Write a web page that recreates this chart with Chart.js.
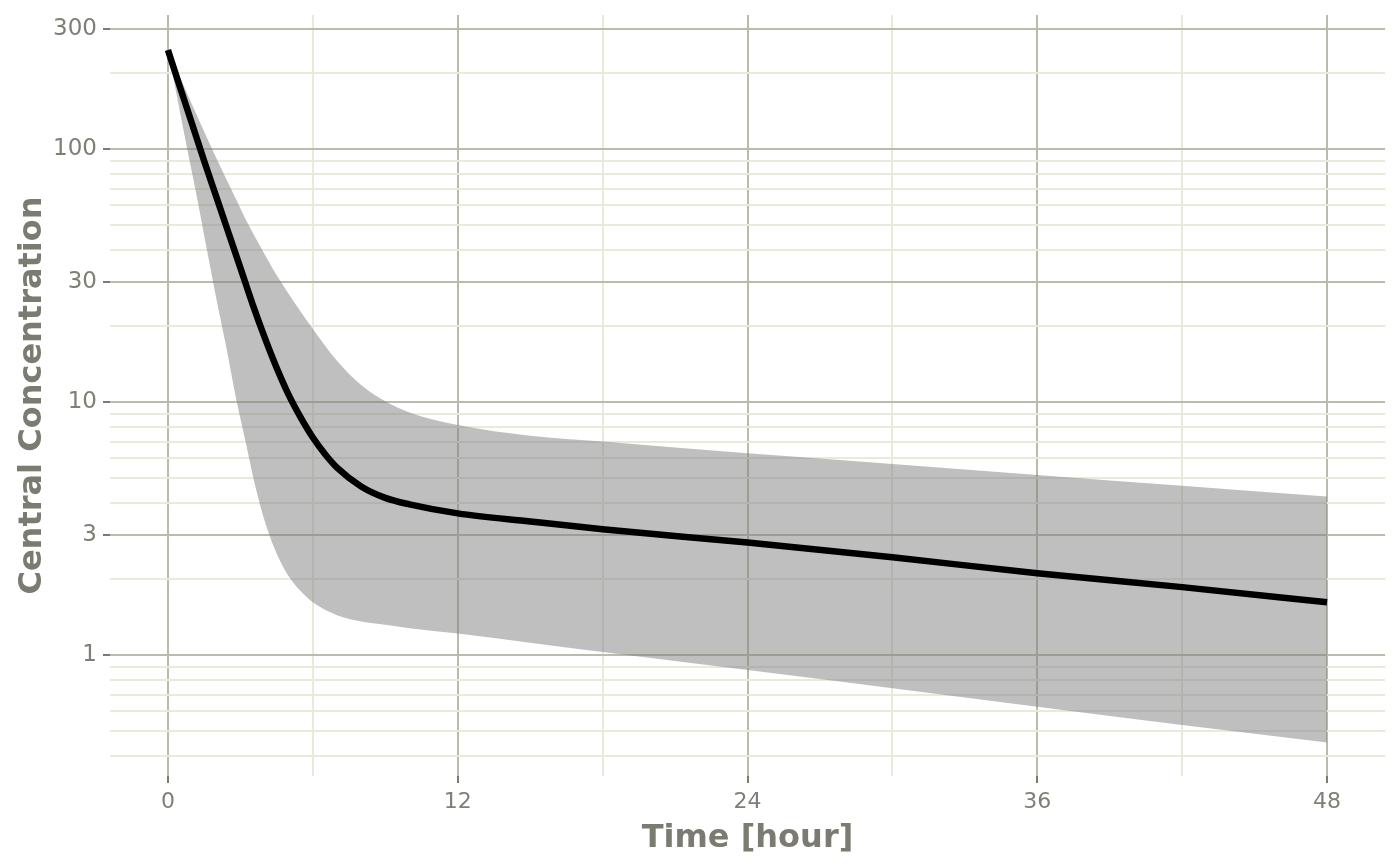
<!DOCTYPE html>
<html>
<head>
<meta charset="utf-8">
<script src="https://cdn.jsdelivr.net/npm/chart.js@4.4.1/dist/chart.umd.min.js"></script>
<style>
  html, body { margin: 0; padding: 0; background: #ffffff; }
  #wrap { width: 1400px; height: 865px; }
</style>
</head>
<body>
<div id="wrap"><canvas id="pkChart" width="1400" height="865"></canvas></div>
<script>
// median concentration curve
const lineTime = [0, 0.5, 1, 1.5, 2, 2.5, 3, 3.5, 4, 4.5, 5, 5.5, 6, 6.5, 7, 8, 9, 10, 12, 15, 18, 24, 30, 36, 42, 48];
const lineConc = [247, 176, 126, 90, 65, 47, 34, 24.5, 18.1, 13.7, 10.7, 8.7, 7.26, 6.25, 5.52, 4.65, 4.19, 3.95, 3.64, 3.38, 3.15, 2.79, 2.44, 2.11, 1.86, 1.62];

// ribbon (interval) around the curve
const bandTime  = [0, 0.4, 0.8, 1.2, 1.6, 2, 2.4, 2.8, 3.2, 3.6, 4, 4.4, 4.8, 5.2, 5.6, 6, 7, 8, 9, 10, 12, 15, 18, 24, 30, 36, 42, 48];
const bandUpper = [247, 202, 166, 136, 112, 92.5, 76.9, 64.1, 53.3, 45.1, 38.5, 33.0, 28.7, 25.1, 22.1, 19.5, 14.6, 11.7, 10.1, 9.12, 8.13, 7.38, 7.0, 6.29, 5.71, 5.16, 4.68, 4.24];
const bandLower = [247, 157, 100, 64.7, 40.7, 25.8, 16.8, 10.6, 7.1, 4.73, 3.41, 2.66, 2.21, 1.93, 1.75, 1.62, 1.44, 1.36, 1.32, 1.28, 1.22, 1.12, 1.03, 0.875, 0.741, 0.626, 0.53, 0.452];

// axis breaks
const xMajorTicks = [0, 12, 24, 36, 48];
const xMinorTicks = [6, 18, 30, 42];
const yMajorTicks = [1, 3, 10, 30, 100, 300];
const yMinorTicks = [0.4, 0.5, 0.6, 0.7, 0.8, 0.9, 2, 4, 5, 6, 7, 8, 9, 20, 40, 50, 60, 70, 80, 90, 200];

const majorGrid = '#babaad';
const minorGrid = '#e9e9dc';
const tickMark = '#7b7b73';
const textGrey = '#7f7f77';
const titleGrey = '#7b7b72';

function toPoints(xs, ys) {
  return xs.map((x, i) => ({ x: x, y: ys[i] }));
}

const data = {
  datasets: [{
    label: 'Central Concentration',
    data: toPoints(lineTime, lineConc),
    borderColor: '#000000',
    borderWidth: 6.5,
    pointRadius: 0,
    fill: false,
    cubicInterpolationMode: 'monotone'
  }, {
    label: 'upper',
    data: toPoints(bandTime, bandUpper),
    borderColor: 'rgba(0,0,0,0)',
    borderWidth: 0,
    pointRadius: 0,
    fill: '+1',
    backgroundColor: 'rgba(127,127,127,0.5)',
    cubicInterpolationMode: 'monotone'
  }, {
    label: 'lower',
    data: toPoints(bandTime, bandLower),
    borderColor: 'rgba(0,0,0,0)',
    borderWidth: 0,
    pointRadius: 0,
    fill: false,
    cubicInterpolationMode: 'monotone'
  }]
};

const config = {
  type: 'line',
  data,
  options: {
    responsive: false,
    animation: false,
    layout: { padding: { top: 15, right: 15, left: 0, bottom: 0 } },
    plugins: {
      legend: { display: false },
      tooltip: { enabled: false }
    },
    scales: {
      x: {
        type: 'linear',
        bounds: 'data',
        min: -2.4,
        max: 50.4,
        afterBuildTicks: (s) => {
          s.ticks = xMajorTicks.concat(xMinorTicks).sort((a, b) => a - b).map(v => ({ value: v }));
        },
        afterFit: (s) => { s.height = 89; },
        border: { display: false },
        grid: {
          lineWidth: 2,
          color: (ctx) => xMajorTicks.includes(ctx.tick.value) ? majorGrid : minorGrid,
          tickLength: 7,
          tickWidth: 2,
          tickColor: (ctx) => xMajorTicks.includes(ctx.tick.value) ? tickMark : 'rgba(0,0,0,0)'
        },
        ticks: {
          autoSkip: false,
          maxRotation: 0,
          padding: 6,
          color: textGrey,
          font: { family: 'DejaVu Sans', size: 22 },
          callback: (v) => xMajorTicks.includes(v) ? String(v) : ''
        },
        title: {
          display: true,
          text: 'Time [hour]',
          color: titleGrey,
          font: { family: 'DejaVu Sans', size: 32, weight: 'bold' },
          padding: { top: 0, bottom: 7 }
        }
      },
      y: {
        type: 'logarithmic',
        bounds: 'data',
        min: 0.3334,
        max: 339.6,
        afterBuildTicks: (s) => {
          s.ticks = yMajorTicks.concat(yMinorTicks).sort((a, b) => a - b).map(v => ({ value: v }));
        },
        afterFit: (s) => { s.width = 110; },
        border: { display: false },
        grid: {
          lineWidth: 2,
          color: (ctx) => yMajorTicks.includes(ctx.tick.value) ? majorGrid : minorGrid,
          tickLength: 7,
          tickWidth: 2,
          tickColor: (ctx) => yMajorTicks.includes(ctx.tick.value) ? tickMark : 'rgba(0,0,0,0)'
        },
        ticks: {
          autoSkip: false,
          padding: 6,
          color: textGrey,
          // small lineHeight keeps the label from pushing the plot area down
          font: { family: 'DejaVu Sans', size: 23, lineHeight: 0.7 },
          callback: (v) => yMajorTicks.includes(v) ? String(v) : ''
        },
        title: {
          display: true,
          text: 'Central Concentration',
          color: titleGrey,
          font: { family: 'DejaVu Sans', size: 32, weight: 'bold' },
          padding: { top: 13, bottom: 0 }
        }
      }
    }
  }
};

const pkChart = new Chart(document.getElementById('pkChart'), config);
</script>
</body>
</html>
